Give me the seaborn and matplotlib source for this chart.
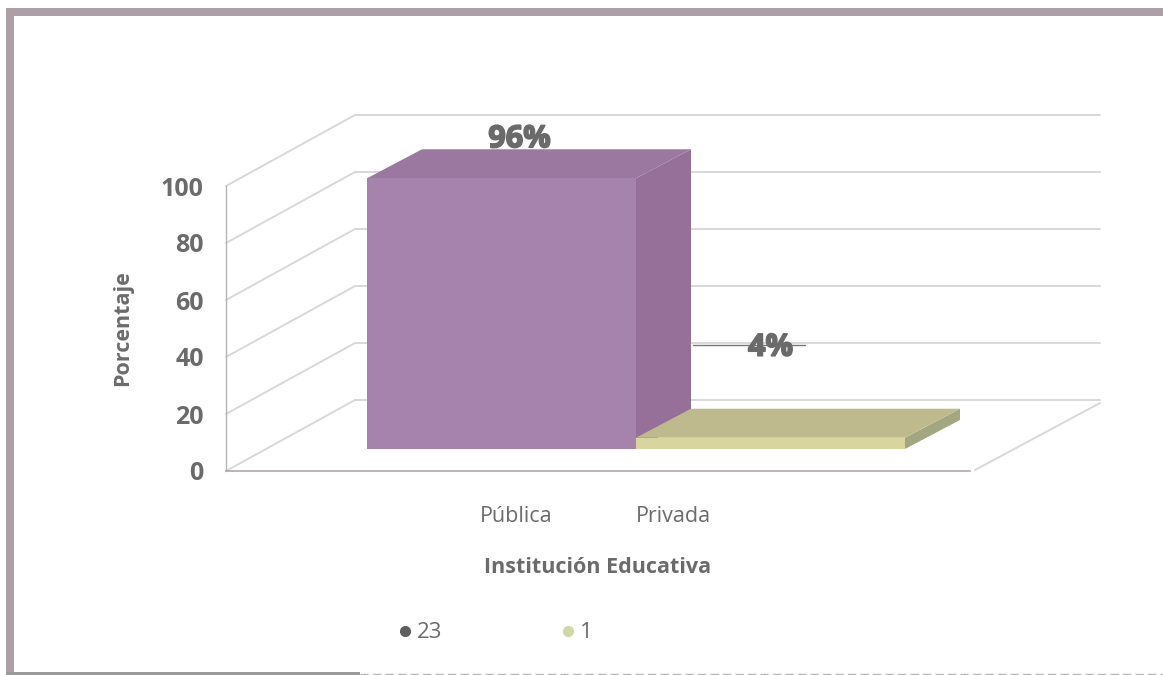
import matplotlib
matplotlib.use("Agg")
import matplotlib.pyplot as plt
import seaborn as sns
from matplotlib.lines import Line2D
from matplotlib.patches import Polygon, Rectangle
from matplotlib.transforms import Affine2D
import matplotlib.patheffects as pe

categories = ["Pública", "Privada"]
percentages = [96, 4]
bar_labels = ["96%", "4%"]
legend_labels = ["23", "1"]
y_ticks = [0, 20, 40, 60, 80, 100]
x_title = "Institución Educativa"
y_title = "Porcentaje"

W, H = 1163, 675
TXT = "#6b6b6b"
GRID = "#d8d8d8"
FRONT = ["#a583ac", "#d8d69e"]
TOP = ["#9a789f", "#bfba8e"]
SIDE = ["#97709a", "#a3a781"]
FONT = "Open Sans"

sns.set_theme(style="white")
plt.rcParams["font.family"] = [FONT, "DejaVu Sans"]


def axes_px(left, right, top, bottom):
    return [left / W, 1 - bottom / H, (right - left) / W, (bottom - top) / H]


fig = plt.figure(figsize=(W / 100, H / 100), dpi=100, facecolor="white")

# page frame and 3D chart walls, in picture pixels
bg = fig.add_axes([0, 0, 1, 1])
bg.set_xlim(0, W)
bg.set_ylim(H, 0)
bg.axis("off")
FRAME = "#ac9fa5"
for rect in [(6, 8, 1157, 8), (6, 8, 8, 665)]:
    bg.add_patch(Rectangle(rect[:2], rect[2], rect[3], color=FRAME, lw=0))
bg.add_patch(Rectangle((6, 672), 354, 3, color="#9b9b9b", lw=0))
bg.plot([360, 1163], [674, 674], color="#b5b5b5", lw=1, ls=(0, (6, 3)))

Y0, Y100 = 471, 186
DX, DY = 129, -71
for t in y_ticks:
    y = Y0 + (Y100 - Y0) * t / 100
    bg.plot([226, 226 + DX, 1100], [y, y + DY, y + DY], color=GRID, lw=1.4, solid_capstyle="round")
bg.plot([975, 1100], [470, 403], color=GRID, lw=1.4)

# front plane: holds the value axis, category labels and titles
front = fig.add_axes(axes_px(226, 970, Y100, Y0), facecolor="none")
front.set_xlim(226, 970)
front.set_ylim(0, 100)
front.set_yticks(y_ticks)
front.set_xticks([516, 673])
front.set_xticklabels(categories)
front.tick_params(axis="y", length=0, pad=16, labelsize=18, labelcolor=TXT)
front.tick_params(axis="x", length=0, pad=25, labelsize=15.5, labelcolor=TXT)
for lab in front.get_yticklabels():
    lab.set_fontweight("bold")
sns.despine(ax=front)
front.spines["left"].set_color("#b5b5b5")
front.spines["bottom"].set_color("#b5a5a8")
front.spines["left"].set_linewidth(1)
front.spines["bottom"].set_linewidth(1.2)
front.set_xlabel(x_title, fontsize=15.5, fontweight="bold", color=TXT, labelpad=22)
front.set_ylabel(y_title, fontsize=15.5, fontweight="bold", color=TXT, labelpad=20)

# bars: the plane in which the front faces stand
bars = fig.add_axes(axes_px(367, 905, 449 - 282, 449), facecolor="none")
sns.barplot(x=categories, y=percentages, hue=categories, palette=FRONT,
            width=1.0, legend=False, saturation=1, ax=bars, zorder=2, linewidth=0)
bars.set_xlim(-0.5, 1.5)
bars.set_ylim(0, 100)
bars.axis("off")

shift = Affine2D().translate(55, 29)
for i, patch in enumerate(bars.patches):
    x0, x1 = patch.get_x(), patch.get_x() + patch.get_width()
    h = patch.get_height()
    base = bars.transData
    tr_back = base + shift
    to_px = lambda p, back: (tr_back if back else base).transform(p)
    top_face = [to_px((x0, h), 0), to_px((x1, h), 0), to_px((x1, h), 1), to_px((x0, h), 1)]
    side_face = [to_px((x1, 0), 0), to_px((x1, h), 0), to_px((x1, h), 1), to_px((x1, 0), 1)]
    z = 1 if i == 0 else 3
    bars.add_patch(Polygon(side_face, closed=True, transform=None, color=SIDE[i], lw=0, zorder=z, clip_on=False))
    bars.add_patch(Polygon(top_face, closed=True, transform=None, color=TOP[i], lw=0, zorder=z, clip_on=False))

# data labels
offsets = [(18, 39), (0, 90)]
for patch, text, off in zip(bars.patches, bar_labels, offsets):
    bars.annotate(text, (patch.get_x() + patch.get_width() / 2, patch.get_height()),
                  xytext=(off[0] * 0.72, off[1] * 0.72), textcoords="offset points",
                  ha="center", va="center", fontsize=22, fontweight="bold", color="#6a6a6a",
                  path_effects=[pe.withStroke(linewidth=1.2, foreground="#6a6a6a")], zorder=6,
                  annotation_clip=False)
bg.plot([693, 805], [345, 345], color="#777777", lw=1)

# legend
handles = [Line2D([], [], marker="o", ls="", ms=7, color=c) for c in ["#5f5f5f", "#cfd8a6"]]
fig.legend(handles, legend_labels, loc="center", bbox_to_anchor=(488 / W, 1 - 633 / H), ncol=2,
           frameon=False, fontsize=16, labelcolor=TXT, columnspacing=4.65, handletextpad=-0.45)

fig.savefig("out.png", dpi=100)
